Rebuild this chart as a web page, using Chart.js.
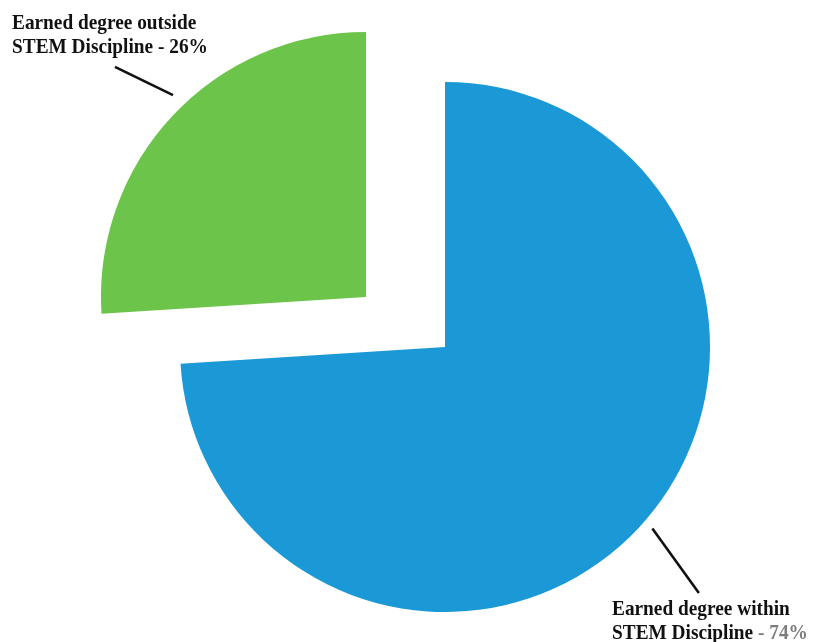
<!DOCTYPE html>
<html>
<head>
<meta charset="utf-8">
<script src="https://cdn.jsdelivr.net/npm/chart.js@4.4.1/dist/chart.umd.min.js"></script>
<style>
  html, body { margin: 0; padding: 0; background: #ffffff; }
  #wrap { position: relative; width: 819px; height: 642px; overflow: hidden; background: #fff; }
  canvas { position: absolute; }
  #cBlue { left: 180px; top: 82px; }
  #cGreen { left: 101px; top: 32px; }
  .lbl { position: absolute; font-family: "Liberation Serif", serif; font-weight: bold; font-size: 21px;
         line-height: 24px; color: #111; white-space: nowrap; transform: scaleX(0.92); transform-origin: 0 0; }
  .gray { color: #7d7d7d; }
</style>
</head>
<body>
<div id="wrap">
  <canvas id="cGreen" width="530" height="530"></canvas>
  <canvas id="cBlue" width="530" height="530"></canvas>
  <div class="lbl" id="lblOut" style="left:12px; top:10px;"></div>
  <div class="lbl" id="lblIn" style="left:612px; top:596px;"></div>
</div>
<script>
// ---- data ----
const categories = ["Earned degree within STEM Discipline", "Earned degree outside STEM Discipline"];
const shares = [74, 26];
const labelLines = [["Earned degree within", "STEM Discipline"], ["Earned degree outside", "STEM Discipline"]];
const sliceColors = ["#1b99d6", "#6cc54a"];

// labels as real text
function setLabel(id, idx, grayPct) {
  const el = document.getElementById(id);
  const l = labelLines[idx];
  el.innerHTML = l[0] + "<br>" + l[1] + (grayPct ? ' <span class="gray">- ' + shares[idx] + '%</span>' : ' - ' + shares[idx] + '%');
}
setLabel("lblOut", 1, false);
setLabel("lblIn", 0, true);

// leader line plugin: polar points relative to the drawn arc (angle in degrees, radius factor)
const leaderPlugin = {
  id: "leader",
  afterDatasetsDraw(chart, args, opts) {
    const arc = chart.getDatasetMeta(0).data[opts.index];
    if (!arc) return;
    const ctx = chart.ctx;
    const pt = (a, f) => [arc.x + Math.cos(a * Math.PI / 180) * arc.outerRadius * f,
                          arc.y + Math.sin(a * Math.PI / 180) * arc.outerRadius * f];
    const p1 = pt(opts.from[0], opts.from[1]);
    const p2 = pt(opts.to[0], opts.to[1]);
    ctx.save();
    ctx.strokeStyle = "#111";
    ctx.lineWidth = 2.6;
    ctx.beginPath();
    ctx.moveTo(p1[0], p1[1]);
    ctx.lineTo(p2[0], p2[1]);
    ctx.stroke();
    ctx.restore();
  }
};

function makePie(canvasId, showIdx, leader) {
  const colors = sliceColors.map((c, i) => i === showIdx ? c : "rgba(0,0,0,0)");
  return new Chart(document.getElementById(canvasId), {
    type: "pie",
    data: {
      labels: categories,
      datasets: [{ data: shares, backgroundColor: colors, borderWidth: 0, hoverOffset: 0 }]
    },
    options: {
      responsive: false,
      animation: false,
      events: [],
      layout: { padding: 0 },
      plugins: {
        legend: { display: false },
        tooltip: { enabled: false },
        leader: Object.assign({ index: showIdx }, leader)
      }
    },
    plugins: [leaderPlugin]
  });
}

makePie("cBlue", 0, { from: [41.2, 1.04], to: [44.1, 1.334] });
makePie("cGreen", 1, { from: [-137.5, 1.285], to: [-133.7, 1.054] });
</script>
</body>
</html>
